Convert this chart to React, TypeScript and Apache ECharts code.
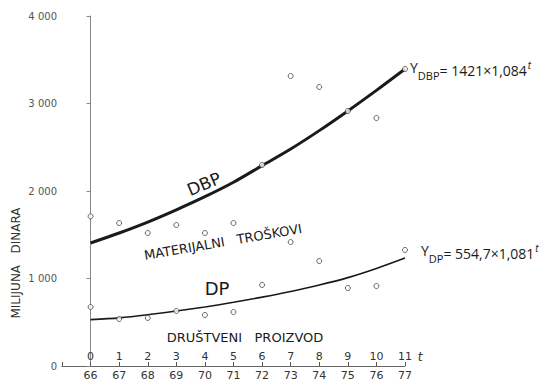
import React, { useEffect, useRef } from "react";
import * as echarts from "echarts";

const tValues = [0, 1, 2, 3, 4, 5, 6, 7, 8, 9, 10, 11];
const yearLabels = ["66", "67", "68", "69", "70", "71", "72", "73", "74", "75", "76", "77"];
const yTickLabels = ["0", "1 000", "2 000", "3 000", "4 000"];

// observed values (open circles)
const dbpActual = [1710, 1634, 1520, 1611, 1520, 1634, 2297, 3314, 3189, 2914, 2834, 3394];
const dpActual = [674, 537, 549, 629, 583, 617, 926, 1417, 1200, 891, 914, 1326];

// trend curves
const dbpTrend = [1406, 1520, 1645, 1785, 1935, 2100, 2290, 2480, 2690, 2915, 3150, 3394];
const dpTrend = [530, 550, 585, 628, 675, 728, 787, 852, 925, 1010, 1115, 1234];

const FONT = "'DejaVu Sans', 'Open Sans', sans-serif";
const EQ_FONT = "'Open Sans', 'DejaVu Sans', sans-serif";
const INK = "#1a1a1a";

const eqRich = {
  y: { fontSize: 14, fontFamily: EQ_FONT, verticalAlign: "top", padding: [0, 0, 7, 0] },
  s: { fontSize: 11, fontFamily: EQ_FONT, verticalAlign: "bottom", padding: [9, 0, 0, 0] },
  e: { fontSize: 14, fontFamily: EQ_FONT },
  p: { fontSize: 10, fontFamily: EQ_FONT, fontStyle: "italic", verticalAlign: "top", padding: [0, 0, 9, 1] },
};

export default function App() {
  const ref = useRef<HTMLDivElement>(null);
  useEffect(() => {
    if (!ref.current) return;
    const chart = echarts.init(ref.current, null, { renderer: "svg" });
    const pair = (vals: number[]) => tValues.map((t, i) => [t, vals[i]]);
    chart.setOption({
      animation: false,
      backgroundColor: "#fff",
      textStyle: { fontFamily: FONT },
      grid: { left: 62, right: 139, top: 16, bottom: 18 },
      xAxis: [
        {
          type: "value",
          min: -1,
          max: 11,
          interval: 1,
          position: "bottom",
          axisLine: { lineStyle: { color: "#666", width: 1 } },
          axisTick: { show: false },
          splitLine: { show: false },
          axisLabel: {
            margin: 4,
            fontSize: 11,
            color: "#333",
            formatter: (v: number) => (v >= 0 ? yearLabels[v] : ""),
          },
        },
        {
          type: "value",
          min: -1,
          max: 11,
          interval: 1,
          position: "bottom",
          axisLine: { show: false },
          axisTick: { show: true, inside: true, length: 4, lineStyle: { color: "#555" } },
          splitLine: { show: false },
          axisLabel: {
            inside: true,
            margin: 4,
            fontSize: 11,
            color: "#333",
            formatter: (v: number) => (v >= 0 ? String(tValues[v]) : ""),
          },
        },
      ],
      yAxis: {
        type: "value",
        min: 0,
        max: 4000,
        interval: 1000,
        axisLine: { show: true, lineStyle: { color: "#888", width: 1 } },
        axisTick: { show: true, length: 4, lineStyle: { color: "#888" } },
        splitLine: { show: false },
        axisLabel: {
          margin: 5,
          fontSize: 10,
          color: "#555",
          formatter: (v: number) => yTickLabels[v / 1000],
        },
      },
      series: [
        {
          type: "line",
          data: pair(dbpTrend),
          smooth: 0.3,
          showSymbol: false,
          lineStyle: { color: INK, width: 3 },
          z: 2,
        },
        {
          type: "line",
          data: pair(dpTrend),
          smooth: 0.3,
          showSymbol: false,
          lineStyle: { color: INK, width: 1.6 },
          z: 2,
        },
        {
          type: "scatter",
          data: pair(dbpActual),
          symbol: "circle",
          symbolSize: 5,
          itemStyle: { color: "#fff", borderColor: "#444", borderWidth: 1 },
          z: 3,
        },
        {
          type: "scatter",
          data: pair(dpActual),
          symbol: "circle",
          symbolSize: 5,
          itemStyle: { color: "#fff", borderColor: "#444", borderWidth: 1 },
          z: 3,
        },
      ],
      graphic: [
        {
          type: "text",
          x: 16,
          y: 263,
          rotation: Math.PI / 2,
          style: {
            text: "MILIJUNA   DINARA",
            fontFamily: FONT,
            fontSize: 12,
            fill: "#333",
            align: "center",
            verticalAlign: "middle",
          },
        },
        {
          type: "text",
          x: 420,
          y: 357,
          style: {
            text: "t",
            fontFamily: FONT,
            fontSize: 12,
            fontStyle: "italic",
            fill: "#333",
            align: "center",
            verticalAlign: "middle",
          },
        },
        {
          type: "text",
          x: 204,
          y: 184,
          rotation: 0.4,
          style: {
            text: "DBP",
            fontFamily: FONT,
            fontSize: 17,
            fill: INK,
            align: "center",
            verticalAlign: "middle",
          },
        },
        {
          type: "text",
          x: 223,
          y: 242,
          rotation: 0.17,
          style: {
            text: "MATERIJALNI   TROŠKOVI",
            fontFamily: FONT,
            fontSize: 13,
            fill: INK,
            align: "center",
            verticalAlign: "middle",
          },
        },
        {
          type: "text",
          x: 217,
          y: 288,
          style: {
            text: "DP",
            fontFamily: FONT,
            fontSize: 18,
            fill: INK,
            align: "center",
            verticalAlign: "middle",
          },
        },
        {
          type: "text",
          x: 245,
          y: 337,
          style: {
            text: "DRUŠTVENI   PROIZVOD",
            fontFamily: FONT,
            fontSize: 13,
            fill: INK,
            align: "center",
            verticalAlign: "middle",
          },
        },
        {
          type: "text",
          x: 410,
          y: 60,
          style: {
            text: "{y|Y}{s|DBP}{e|= 1421×1,084}{p|t}",
            fontFamily: EQ_FONT,
            fill: INK,
            rich: eqRich,
          },
        },
        {
          type: "text",
          x: 421,
          y: 243,
          style: {
            text: "{y|Y}{s|DP}{e|= 554,7×1,081}{p|t}",
            fontFamily: EQ_FONT,
            fill: INK,
            rich: eqRich,
          },
        },
      ],
    });
    return () => chart.dispose();
  }, []);
  return (
    <div
      ref={ref}
      style={{ position: "fixed", left: 0, top: 0, width: 544, height: 384 }}
    />
  );
}
